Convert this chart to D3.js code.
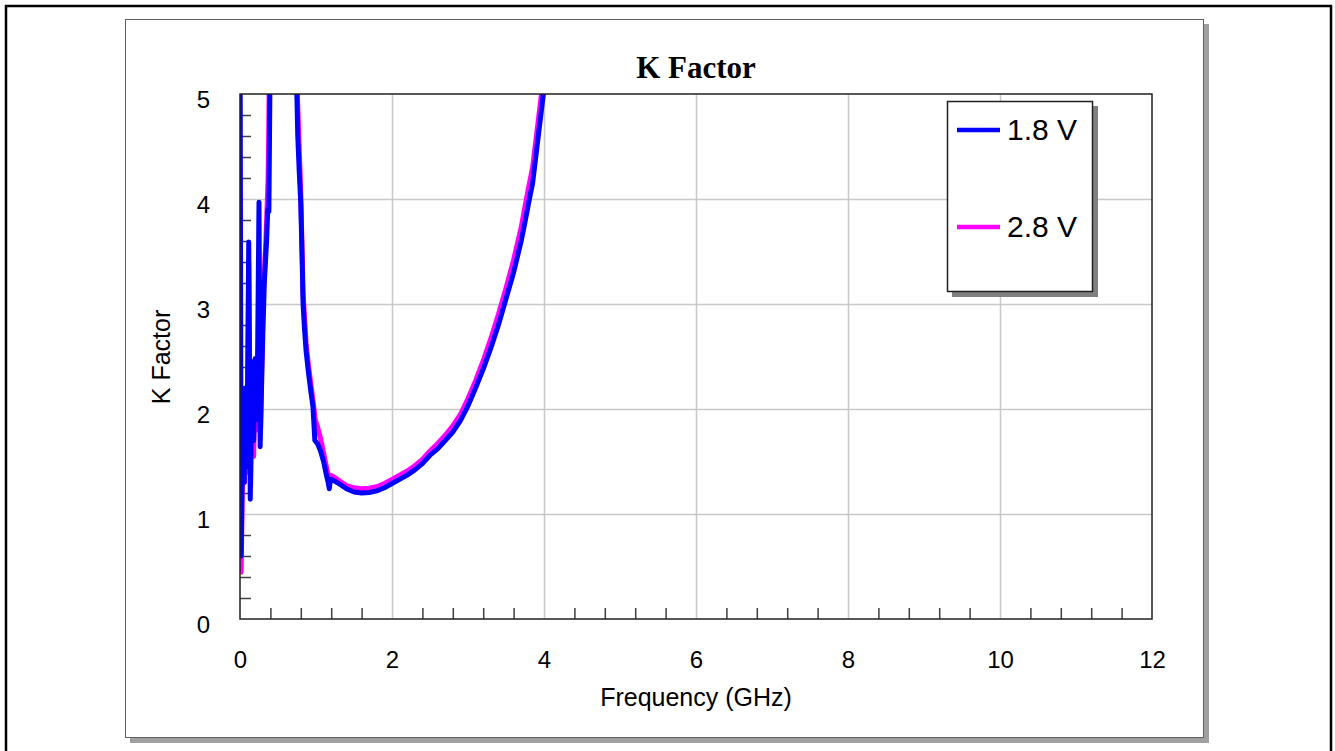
<!DOCTYPE html>
<html>
<head>
<meta charset="utf-8">
<script src="https://cdn.jsdelivr.net/npm/d3@7"></script>
<style>
  body { margin: 0; background: #fff; }
  svg { display: block; }
</style>
</head>
<body>
<div id="chart"></div>
<script>
// ---- data ----
const freq18 = [0.000, 0.015, 0.040, 0.055, 0.070, 0.090, 0.115, 0.135, 0.160, 0.180, 0.200, 0.215, 0.230, 0.250, 0.265,
  0.300, 0.320, 0.350, 0.365, 0.380, 0.400, 0.450, 0.550, 0.650, 0.720, 0.745, 0.760, 0.780, 0.800, 0.820, 0.830, 0.850,
  0.870, 0.900, 0.930, 0.960, 0.985, 1.020, 1.060, 1.100, 1.140, 1.160, 1.175, 1.190, 1.230, 1.300, 1.400, 1.500, 1.600,
  1.700, 1.800, 1.900, 2.000, 2.100, 2.200, 2.300, 2.400, 2.500, 2.600, 2.700, 2.800, 2.900, 3.000, 3.100, 3.200, 3.300,
  3.400, 3.500, 3.600, 3.700, 3.750, 3.800, 3.850, 3.900, 3.950, 4.000, 4.050];
const k18 = [6.0, 0.60, 2.10, 1.30, 2.20, 1.45, 3.59, 1.14, 2.45, 1.70, 2.48, 1.90, 2.40, 3.97, 1.64,
  2.70, 3.20, 3.60, 3.90, 3.88, 5.6, 9.0, 14.0, 11.0, 6.5, 5.1, 4.6, 4.25, 3.95, 3.35, 3.00, 2.75,
  2.55, 2.35, 2.18, 2.02, 1.70, 1.67, 1.60, 1.50, 1.36, 1.30, 1.24, 1.33, 1.32, 1.29, 1.24, 1.21, 1.20,
  1.205, 1.22, 1.25, 1.29, 1.33, 1.37, 1.42, 1.48, 1.56, 1.62, 1.70, 1.78, 1.89, 2.03, 2.20, 2.38, 2.58,
  2.80, 3.05, 3.30, 3.60, 3.78, 3.97, 4.15, 4.45, 4.75, 5.05, 5.5];

const freq28 = [0.000, 0.015, 0.030, 0.045, 0.060, 0.080, 0.100, 0.115, 0.140, 0.160, 0.180, 0.200, 0.220, 0.250, 0.270,
  0.300, 0.340, 0.370, 0.400, 0.500, 0.600, 0.700, 0.745, 0.800, 0.830, 0.870, 0.900, 0.960, 0.990, 1.020, 1.060, 1.100,
  1.140, 1.170, 1.180, 1.220, 1.300, 1.400, 1.500, 1.600, 1.700, 1.800, 1.900, 2.000, 2.100, 2.200, 2.300, 2.400, 2.500,
  2.600, 2.700, 2.800, 2.900, 3.000, 3.100, 3.200, 3.300, 3.400, 3.500, 3.600, 3.700, 3.750, 3.800, 3.850, 3.900, 3.950,
  4.000, 4.050];
const k28 = [0.43, 0.45, 1.20, 2.00, 1.30, 2.10, 1.40, 3.40, 1.27, 2.30, 1.55, 2.40, 1.80, 2.80, 1.80,
  3.00, 3.60, 4.20, 6.0, 12.0, 13.0, 7.0, 5.2, 4.05, 3.10, 2.62, 2.42, 2.08, 1.90, 1.83, 1.72, 1.58,
  1.44, 1.34, 1.37, 1.36, 1.32, 1.27, 1.25, 1.24, 1.245, 1.26, 1.29, 1.33, 1.37, 1.41, 1.46, 1.52, 1.60,
  1.67, 1.75, 1.84, 1.95, 2.10, 2.27, 2.46, 2.67, 2.90, 3.15, 3.42, 3.73, 3.93, 4.12, 4.30, 4.60, 4.90,
  5.20, 5.7];

const seriesNames = ["1.8 V", "2.8 V"];
const seriesColors = ["#0000ff", "#ff00ff"];
const xTicks = [0, 2, 4, 6, 8, 10, 12];
const yTicks = [0, 1, 2, 3, 4, 5];

// ---- layout ----
const W = 1335, H = 751;
const plot = { left: 240, right: 1152, top: 94, bottom: 619 };

const svg = d3.select("#chart").append("svg")
  .attr("width", W)
  .attr("height", H);

// outer frame
svg.append("rect")
  .attr("x", 6).attr("y", 6)
  .attr("width", 1325).attr("height", 780)
  .attr("fill", "none")
  .attr("stroke", "#000")
  .attr("stroke-width", 2.5);

// inner panel with shadow
svg.append("rect")
  .attr("x", 130).attr("y", 24)
  .attr("width", 1079).attr("height", 719)
  .attr("fill", "#a0a0a0");
svg.append("rect")
  .attr("x", 125.5).attr("y", 19.5)
  .attr("width", 1078).attr("height", 718)
  .attr("fill", "#fff")
  .attr("stroke", "#606060")
  .attr("stroke-width", 1);

const x = d3.scaleLinear().domain([0, 12]).range([plot.left, plot.right]);
const y = d3.scaleLinear().domain([0, 5]).range([plot.bottom, plot.top]);

const plotH = plot.bottom - plot.top;
const plotW = plot.right - plot.left;

// gridlines
const gridX = svg.append("g")
  .attr("transform", `translate(0,${plot.bottom})`)
  .call(d3.axisBottom(x).tickValues([2, 4, 6, 8, 10]).tickSize(-plotH).tickFormat(""));
const gridY = svg.append("g")
  .attr("transform", `translate(${plot.left},0)`)
  .call(d3.axisLeft(y).tickValues([1, 2, 3, 4]).tickSize(-plotW).tickFormat(""));
[gridX, gridY].forEach(g => {
  g.select(".domain").remove();
  g.selectAll("line").attr("stroke", "#c8c8c8").attr("stroke-width", 1.5);
});

// minor ticks (inward)
const minorX = d3.range(0, 12.001, 0.4).filter(v => Math.abs(v / 2 - Math.round(v / 2)) > 0.01);
const minorY = d3.range(0, 5.001, 0.2).filter(v => Math.abs(v - Math.round(v)) > 0.01);
const tX = svg.append("g")
  .attr("transform", `translate(0,${plot.bottom})`)
  .call(d3.axisBottom(x).tickValues(minorX).tickSize(-11).tickFormat(""));
const tY = svg.append("g")
  .attr("transform", `translate(${plot.left},0)`)
  .call(d3.axisLeft(y).tickValues(minorY).tickSize(-11).tickFormat(""));
[tX, tY].forEach(g => {
  g.select(".domain").remove();
  g.selectAll("line").attr("stroke", "#404040").attr("stroke-width", 1.5);
});

// tick labels
const labX = svg.append("g")
  .attr("transform", `translate(0,${plot.bottom})`)
  .call(d3.axisBottom(x).tickValues(xTicks).tickSize(0).tickPadding(32).tickFormat(d3.format("d")));
const labY = svg.append("g")
  .attr("transform", `translate(${plot.left},0)`)
  .call(d3.axisLeft(y).tickValues(yTicks).tickSize(0).tickPadding(30).tickFormat(d3.format("d")));
[labX, labY].forEach(g => {
  g.select(".domain").remove();
  g.selectAll("text")
    .attr("font-family", "'Liberation Sans', Arial, sans-serif")
    .attr("font-size", 24)
    .attr("fill", "#000");
});
labY.selectAll("text").attr("dy", 13);

// series
const clip = svg.append("clipPath").attr("id", "plotclip")
  .append("rect")
  .attr("x", plot.left).attr("y", plot.top)
  .attr("width", plotW).attr("height", plotH);

const line = d3.line()
  .x(d => x(d[0]))
  .y(d => y(d[1]));

const s28 = d3.zip(freq28, k28);
const s18 = d3.zip(freq18, k18);

const lines = svg.append("g").attr("clip-path", "url(#plotclip)");
lines.append("path")
  .datum(s28)
  .attr("fill", "none")
  .attr("stroke", seriesColors[1])
  .attr("stroke-width", 5)
  .attr("stroke-linejoin", "round")
  .attr("d", line);
lines.append("path")
  .datum(s18)
  .attr("fill", "none")
  .attr("stroke", seriesColors[0])
  .attr("stroke-width", 5)
  .attr("stroke-linejoin", "round")
  .attr("d", line);

// plot frame
svg.append("rect")
  .attr("x", plot.left).attr("y", plot.top)
  .attr("width", plotW).attr("height", plotH)
  .attr("fill", "none")
  .attr("stroke", "#202020")
  .attr("stroke-width", 1.5);

// title & axis labels
svg.append("text")
  .attr("x", 696).attr("y", 78)
  .attr("text-anchor", "middle")
  .attr("font-family", "'Liberation Serif', 'Times New Roman', serif")
  .attr("font-weight", "bold")
  .attr("font-size", 31)
  .text("K Factor");

svg.append("text")
  .attr("x", 696).attr("y", 706)
  .attr("text-anchor", "middle")
  .attr("font-family", "'Liberation Sans', Arial, sans-serif")
  .attr("font-size", 25)
  .text("Frequency (GHz)");

svg.append("text")
  .attr("transform", "translate(170,357) rotate(-90)")
  .attr("text-anchor", "middle")
  .attr("font-family", "'Liberation Sans', Arial, sans-serif")
  .attr("font-size", 25)
  .text("K Factor");

// legend
const lg = svg.append("g");
lg.append("rect")
  .attr("x", 952).attr("y", 106)
  .attr("width", 146).attr("height", 191)
  .attr("fill", "#808080");
lg.append("rect")
  .attr("x", 947.5).attr("y", 101.5)
  .attr("width", 145).attr("height", 190)
  .attr("fill", "#fff")
  .attr("stroke", "#202020")
  .attr("stroke-width", 1.5);

const legendY = d3.scalePoint().domain(seriesNames).range([130, 227]);
seriesNames.forEach((name, i) => {
  lg.append("line")
    .attr("x1", 957).attr("x2", 1000)
    .attr("y1", legendY(name)).attr("y2", legendY(name))
    .attr("stroke", seriesColors[i])
    .attr("stroke-width", 4.5);
  lg.append("text")
    .attr("x", 1007).attr("y", legendY(name) + 10)
    .attr("font-family", "'Liberation Sans', Arial, sans-serif")
    .attr("font-size", 30)
    .text(name);
});
</script>
</body>
</html>
